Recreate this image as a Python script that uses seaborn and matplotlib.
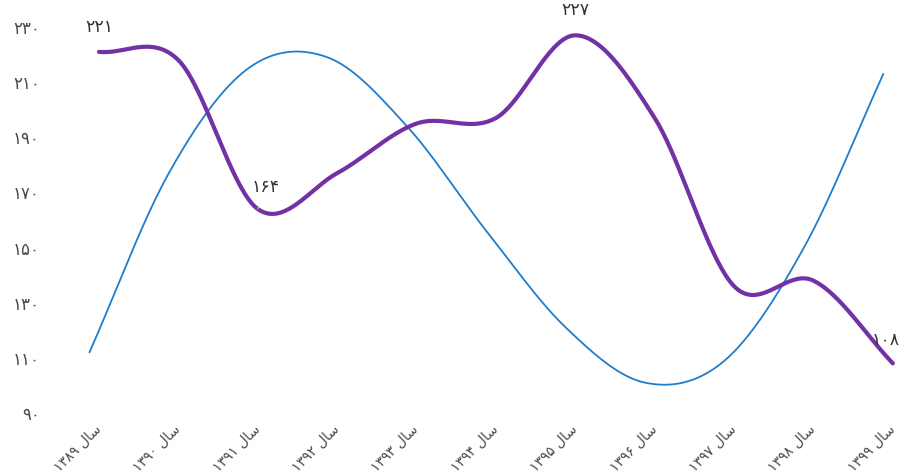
import numpy as np
import pandas as pd
import seaborn as sns
import matplotlib.pyplot as plt

sns.set_theme(style="white")
plt.rcParams['font.family'] = ['DejaVu Sans']

# years (Persian digits) and the word "sal" in visual (shaped, left-to-right) order
years = ['۱۳۸۹', '۱۳۹۰', '۱۳۹۱', '۱۳۹۲', '۱۳۹۳', '۱۳۹۴', '۱۳۹۵', '۱۳۹۶', '۱۳۹۷', '۱۳۹۸', '۱۳۹۹']
sal_visual = '\uFEDD\uFE8E\uFEB3'  # سال
tick_labels = [y + ' ' + sal_visual for y in years]

blue_values = [112, 177, 215, 219, 194, 156, 121, 101, 109, 150, 213]
purple_values = [221, 218, 164, 177, 195, 197, 227, 197, 136, 138, 108]

# labelled points on the purple line: index -> text
purple_labels = {0: '۲۲۱', 2: '۱۶۴', 6: '۲۲۷', 10: '۱۰۸'}

y_ticks = [90, 110, 130, 150, 170, 190, 210, 230]
y_tick_labels = ['۹۰', '۱۱۰', '۱۳۰', '۱۵۰', '۱۷۰', '۱۹۰', '۲۱۰', '۲۳۰']


def catmull_rom(x, y, n=40):
    # smooth curve through the points (cubic hermite, catmull-rom tangents)
    x = np.asarray(x, float)
    y = np.asarray(y, float)
    m = np.zeros_like(y)
    m[1:-1] = (y[2:] - y[:-2]) / 2
    m[0] = y[1] - y[0]
    m[-1] = y[-1] - y[-2]
    xs, ys = [], []
    for i in range(len(x) - 1):
        t = np.linspace(0, 1, n, endpoint=(i == len(x) - 2))
        h00 = 2*t**3 - 3*t**2 + 1
        h10 = t**3 - 2*t**2 + t
        h01 = -2*t**3 + 3*t**2
        h11 = t**3 - t**2
        xs.append(x[i] + t * (x[i+1] - x[i]))
        ys.append(h00*y[i] + h10*m[i] + h01*y[i+1] + h11*m[i+1])
    return np.concatenate(xs), np.concatenate(ys)


idx = np.arange(len(years))
bx, by = catmull_rom(idx - 0.12, blue_values)
px, py = catmull_rom(idx, purple_values)
blue_df = pd.DataFrame({'x': bx, 'y': by})
purple_df = pd.DataFrame({'x': px, 'y': py})

fig = plt.figure(figsize=(9.05, 4.76), dpi=100)
ax = fig.add_axes([55/905, 63/476, 845/905, 408/476])

sns.lineplot(data=blue_df, x='x', y='y', ax=ax, sort=False, color='#1f7dcb', linewidth=1.3)
sns.lineplot(data=purple_df, x='x', y='y', ax=ax, sort=False, color='#7232a6', linewidth=3)

label_style = dict(ha='center', va='center', fontsize=12.5, color='#333333')
for i, txt in purple_labels.items():
    if i == 2:
        ax.annotate(txt, xy=(i, purple_values[i]), xytext=(6, 16), textcoords='offset points',
                    arrowprops=dict(arrowstyle='-', color='#bbbbbb', lw=0.8, shrinkA=6, shrinkB=3),
                    **label_style)
    elif i == len(years) - 1:
        ax.annotate(txt, xy=(i, purple_values[i]), xytext=(-5, 17), textcoords='offset points',
                    **label_style)
    else:
        ax.annotate(txt, xy=(i, purple_values[i]), xytext=(0, 18), textcoords='offset points',
                    **label_style)

ax.set_xlim(-0.554, 10.09)
ax.set_ylim(90, 238)
ax.set_yticks(y_ticks)
ax.set_yticklabels(y_tick_labels, fontsize=12, color='#4a4a4a')
ax.set_xticks(idx)
ax.set_xticklabels(tick_labels, fontsize=10, color='#4a4a4a', rotation=45,
                   ha='right', va='center', rotation_mode='anchor')
ax.tick_params(axis='y', length=0, pad=11)
ax.tick_params(axis='x', length=0, pad=10)
ax.set_xlabel('')
ax.set_ylabel('')
sns.despine(ax=ax, left=True, bottom=True)

fig.savefig('out.png', dpi=100)
